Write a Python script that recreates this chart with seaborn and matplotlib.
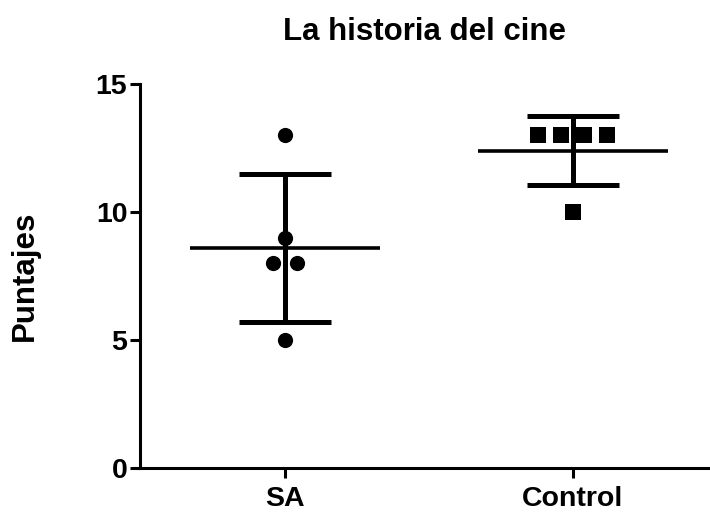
import numpy as np
import pandas as pd
import matplotlib
matplotlib.use("Agg")
import matplotlib.pyplot as plt
import seaborn as sns

categories = ["SA", "Control"]
sa_values = [13, 9, 8, 8, 5]
control_values = [13, 13, 13, 13, 10]
yticks = [0, 5, 10, 15]
title = "La historia del cine"
ylabel = "Puntajes"

sns.set_theme(style="ticks")
plt.rcParams["font.family"] = ["Liberation Sans", "DejaVu Sans"]

groups = [sa_values, control_values]
markers = ["o", "s"]

rows = []
for gi, (cat, vals) in enumerate(zip(categories, groups)):
    vals = np.asarray(vals, dtype=float)
    for v in np.unique(vals):
        n = int((vals == v).sum())
        offs = (np.arange(n) - (n - 1) / 2.0)
        for o in offs:
            rows.append({"cat": cat, "gi": gi, "value": v, "off": o})
df = pd.DataFrame(rows)
spacing = {0: 0.083, 1: 0.08}
df["xpos"] = df["gi"] + df["off"] * df["gi"].map(spacing)

fig = plt.figure(figsize=(7.10, 5.13), dpi=100)
ax = fig.add_axes([0.197, 0.088, 0.803, 0.748])

for gi, cat in enumerate(categories):
    sub = df[df["gi"] == gi]
    sns.scatterplot(data=sub, x="xpos", y="value", marker=markers[gi], s=120,
                    color="black", edgecolor="black", linewidth=0, ax=ax, legend=False, zorder=3)
    vals = np.asarray(groups[gi], dtype=float)
    m = vals.mean()
    sd = vals.std(ddof=1)
    ax.hlines(m, gi - 0.33, gi + 0.33, color="black", lw=2.6, zorder=4)
    ax.errorbar([gi], [m], yerr=[sd], fmt="none", ecolor="black", elinewidth=3.6,
                capsize=33, capthick=3.6, zorder=4)

ax.set_xlim(-0.503, 1.476)
ax.set_ylim(0, 15)
ax.set_yticks(yticks)
ax.set_xticks(range(len(categories)))
ax.set_xticklabels(categories)
ax.tick_params(axis="both", labelsize=20.5, width=2.2, length=7, color="black", labelcolor="black")
ax.tick_params(axis="y", pad=2)
ax.tick_params(axis="x", pad=6)
for lab in ax.get_xticklabels() + ax.get_yticklabels():
    lab.set_fontweight("bold")
ax.spines["top"].set_visible(False)
ax.spines["right"].set_visible(False)
ax.spines["left"].set_linewidth(2.2)
ax.spines["bottom"].set_linewidth(2.2)
ax.spines["left"].set_color("black")
ax.spines["bottom"].set_color("black")
ax.set_xlabel("")
ax.set_ylabel(ylabel, fontsize=22.5, fontweight="bold", labelpad=40, color="black")
ax.set_title(title, fontsize=22.5, fontweight="bold", pad=32, color="black")

fig.savefig("out.png", dpi=100, facecolor="white")
